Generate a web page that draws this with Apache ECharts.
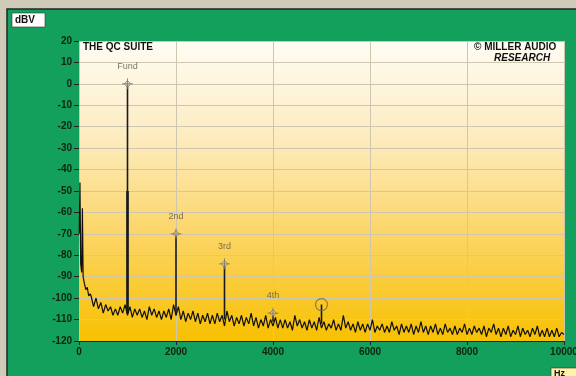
<!DOCTYPE html>
<html lang="en">
<head>
    <meta charset="UTF-8">
    <title>THE QC SUITE - spectrum</title>
    <script src="https://cdn.jsdelivr.net/npm/echarts@6/dist/echarts.min.js"></script>
    <style>
        body { margin: 0; padding: 0; background: #cfcbb8; }
        #chart { width: 576px; height: 376px; }
    </style>
</head>
<body>
<div id="chart"></div>
<script>
    // 低频段（0 - 230 Hz）读数
    const lowHz = [5, 20, 35, 55, 70, 85, 110, 140, 170, 200, 230];
    const lowDb = [-70, -46, -84, -88, -58, -90, -93, -96, -95, -99, -98];

    // 噪声底，从 250 Hz 起每 50 Hz 一个读数，到 10000 Hz
    const noiseStartHz = 250;
    const noiseStepHz = 50;
    const noiseDb = [
        -99, -104, -100, -105, -102, -107, -103, -106, -104, -108,
        -105, -108, -104, -107, -103, -108, -104, -109, -105, -108,
        -105, -109, -106, -110, -104, -108, -105, -109, -106, -110,
        -106, -109, -105, -110, -103, -108, -104, -110, -106, -111,
        -107, -110, -106, -111, -107, -112, -108, -111, -107, -112,
        -108, -112, -107, -111, -108, -113, -106, -111, -108, -113,
        -109, -112, -108, -113, -109, -112, -107, -113, -109, -114,
        -110, -113, -108, -114, -110, -113, -109, -114, -110, -114,
        -110, -114, -111, -115, -108, -113, -110, -114, -111, -115,
        -110, -114, -111, -115, -109, -114, -111, -115, -112, -114,
        -110, -115, -112, -115, -108, -114, -111, -115, -112, -116,
        -111, -115, -112, -116, -112, -115, -110, -116, -113, -115,
        -112, -116, -113, -116, -111, -115, -113, -117, -112, -116,
        -113, -116, -112, -117, -113, -116, -111, -116, -113, -117,
        -113, -116, -112, -117, -114, -117, -112, -116, -114, -117,
        -113, -117, -114, -116, -112, -117, -114, -117, -113, -116,
        -114, -117, -113, -118, -114, -116, -112, -117, -114, -118,
        -114, -117, -113, -118, -115, -117, -113, -118, -114, -117,
        -115, -118, -114, -117, -113, -118, -115, -118, -114, -118,
        -115, -118, -114, -118, -116, -117
    ];

    // 谐波峰值
    const peakNames = ["Fund", "2nd", "3rd", "4th", ""];
    const peakHz = [1000, 2000, 3000, 4000, 5000];
    const peakDb = [0, -70, -84, -107, -103];
    const peakBase = [-107, -108, -110, -111, -112];

    // 基波裙边（线条加粗部分）
    const skirtHz = [1000];
    const skirtDb = [-50];

    const xTicks = { min: 0, max: 10000, interval: 2000 };
    const yTicks = { min: -120, max: 20, interval: 10 };

    const trace = lowHz.map((f, i) => [f, lowDb[i]])
        .concat(noiseDb.map((v, i) => [noiseStartHz + i * noiseStepHz, v]));

    const chart = echarts.init(document.getElementById("chart"));

    const peakLines = peakHz.map((f, i) => ({
        type: "line",
        data: [[f, peakBase[i]], [f, peakDb[i]]],
        symbol: "none",
        lineStyle: { color: "#1a1a1a", width: 1.6 },
        z: 3
    }));
    const skirtLines = skirtHz.map((f, i) => ({
        type: "line",
        data: [[f, peakBase[0]], [f, skirtDb[i]]],
        symbol: "none",
        lineStyle: { color: "#1a1a1a", width: 2.6 },
        z: 3
    }));

    const markerPath = "path://M0,-6L0,6M-6,0L6,0M0,-3.5L3.5,0L0,3.5L-3.5,0Z";

    chart.setOption({
        animation: false,
        backgroundColor: "transparent",
        graphic: [
            { type: "rect", shape: { x: 7, y: 9, width: 580, height: 380 },
              style: { fill: "#12a05c", stroke: "#1e2a22", lineWidth: 1.5 }, z: -10 },
            { type: "rect", shape: { x: 12, y: 13, width: 33, height: 14 },
              style: { fill: "#ffffff", stroke: "#333", lineWidth: 0.6 }, z: -5 },
            { type: "text", left: 15, top: 15,
              style: { text: "dBV", font: "bold 10px 'Liberation Sans'", fill: "#111" } },
            { type: "rect", shape: { x: 551, y: 368, width: 30, height: 12 },
              style: { fill: "#fff3a8", stroke: "#333", lineWidth: 0.6 }, z: -5 },
            { type: "text", left: 554, top: 369,
              style: { text: "Hz", font: "bold 9px 'Liberation Sans'", fill: "#111" } },
            { type: "text", left: 83, top: 42,
              style: { text: "THE QC SUITE", font: "bold 10px 'Liberation Sans'", fill: "#111" }, z: 10 },
            { type: "text", left: 474, top: 42,
              style: { text: "© MILLER AUDIO", font: "bold 10px 'Liberation Sans'", fill: "#111" }, z: 10 },
            { type: "text", left: 494, top: 53,
              style: { text: "RESEARCH", font: "italic bold 10px 'Liberation Sans'", fill: "#111" }, z: 10 }
        ],
        grid: {
            left: 79, top: 41, width: 485, height: 300,
            outerBoundsMode: "none",
            show: true,
            borderWidth: 0,
            backgroundColor: new echarts.graphic.LinearGradient(0, 0, 0, 1, [
                { offset: 0, color: "#fffcf4" },
                { offset: 0.3, color: "#fdedc4" },
                { offset: 0.6, color: "#fcd873" },
                { offset: 1, color: "#f8c000" }
            ])
        },
        xAxis: {
            type: "value",
            min: xTicks.min, max: xTicks.max, interval: xTicks.interval,
            axisLine: { show: true, onZero: false, lineStyle: { color: "#222", width: 1 } },
            axisTick: { show: true, length: 4, lineStyle: { color: "#222" } },
            axisLabel: { color: "#112211", fontWeight: "bold", fontSize: 10,
                         fontFamily: "Liberation Sans", margin: 6,
                         formatter: (v) => String(v) },
            splitLine: { show: true, lineStyle: { color: "#cfc6b0", width: 1 } }
        },
        yAxis: {
            type: "value",
            min: yTicks.min, max: yTicks.max, interval: yTicks.interval,
            axisLine: { show: false },
            axisTick: { show: true, length: 5, lineStyle: { color: "#222" } },
            axisLabel: { color: "#112211", fontWeight: "bold", fontSize: 10,
                         fontFamily: "Liberation Sans", margin: 7 },
            splitLine: { show: true, lineStyle: { color: "#cfc6b0", width: 1 } }
        },
        series: [
            {
                type: "line",
                data: trace,
                symbol: "none",
                lineStyle: { color: "#111", width: 1.2 },
                z: 4
            },
            ...peakLines,
            ...skirtLines,
            {
                type: "scatter",
                data: peakHz.slice(0, 4).map((f, i) => ({
                    value: [f, peakDb[i]],
                    label: { show: true, formatter: peakNames[i] }
                })),
                symbol: markerPath,
                symbolSize: 11,
                itemStyle: { color: "#e8e0cc", borderColor: "#7a7262", borderWidth: 1 },
                label: { position: "top", distance: 7, color: "#5a5548",
                         fontSize: 9, fontFamily: "Liberation Sans" },
                z: 6
            },
            {
                type: "scatter",
                data: [[peakHz[4], peakDb[4]]],
                symbol: "circle",
                symbolSize: 12,
                itemStyle: { color: "transparent", borderColor: "#6e6656", borderWidth: 1.2 },
                z: 6
            }
        ]
    });
</script>
</body>
</html>
